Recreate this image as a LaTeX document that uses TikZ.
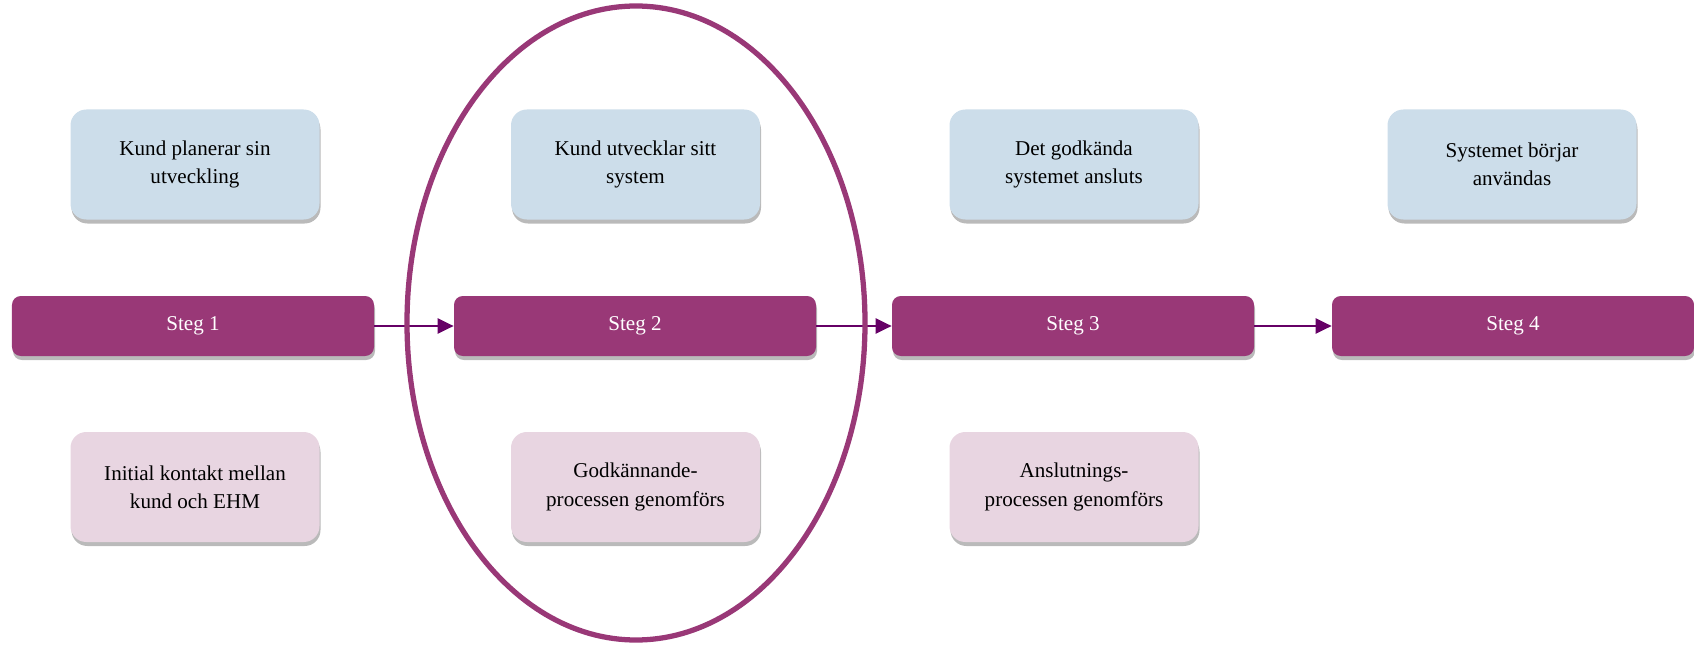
\documentclass[tikz,border=0pt]{standalone}
\usepackage{fontspec}
\setmainfont{Liberation Serif}
\usepackage{tikz}
\usetikzlibrary{arrows.meta,positioning,calc,shadows}
\definecolor{mPlum}{HTML}{993877}
\definecolor{mDeep}{HTML}{660066}
\definecolor{mSky}{HTML}{CCDDEA}
\definecolor{mRose}{HTML}{E8D5E1}
\tikzset{
  >=Triangle,
  steg/.style ={rectangle,rounded corners=5pt,fill=mPlum,text=white,align=center,minimum width=7.24cm,minimum height=1.2cm,
                drop shadow={opacity=0.45,fill=black!60,shadow xshift=0.02cm,shadow yshift=-0.08cm}},
  upper/.style={rectangle,rounded corners=9pt,fill=mSky,align=center,minimum width=4.98cm,minimum height=2.2cm,
                drop shadow={opacity=0.45,fill=black!60,shadow xshift=0.02cm,shadow yshift=-0.08cm}},
  lower/.style={upper,fill=mRose},
  flow/.style ={mDeep,line width=1.4pt,-{Triangle[length=0.32cm,width=0.3cm]}},
}
\begin{document}
\begin{tikzpicture}[font=\fontsize{12}{16}\selectfont]
  \useasboundingbox (0,0) rectangle (33.88,12.92);

  % ---- middle row: steps ----
  \node[steg] (s1) at (3.86,6.4)  {Steg 1};
  \node[steg] (s2) at (12.70,6.4) {Steg 2};
  \node[steg] (s3) at (21.46,6.4) {Steg 3};
  \node[steg] (s4) at (30.26,6.4) {Steg 4};
  \draw[flow] (s1) -- (s2);
  \draw[flow] (s2) -- (s3);
  \draw[flow] (s3) -- (s4);

  % ---- top row ----
  \node[upper] (u1) at (3.90,9.63)  {Kund planerar sin\\utveckling};
  \node[upper] (u2) at (12.71,9.63) {Kund utvecklar sitt\\system};
  \node[upper] (u3) at (21.48,9.63) {Det godkända\\systemet ansluts};
  \node[upper] (u4) at (30.24,9.63) {Systemet börjar\\användas};

  % ---- bottom row ----
  \node[lower] (l1) at (3.90,3.18)  {Initial kontakt mellan\\kund och EHM};
  \node[lower] (l2) at (12.71,3.18) {Godkännande-\\processen genomförs};
  \node[lower] (l3) at (21.48,3.18) {Anslutnings-\\processen genomförs};

  % highlight of step 2
  \draw[mPlum,line width=3pt] (12.72,6.46) ellipse [x radius=4.58cm,y radius=6.34cm];
\end{tikzpicture}
\end{document}
